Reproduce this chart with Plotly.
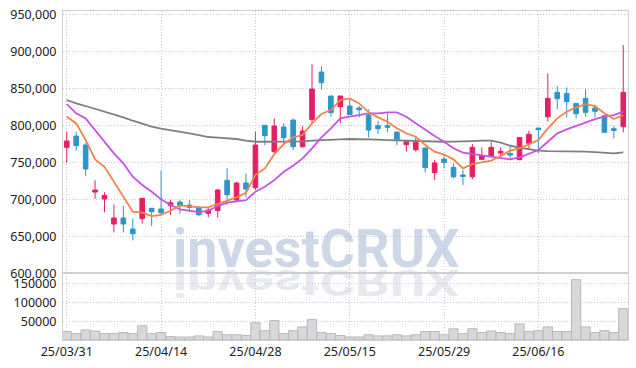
import plotly.graph_objects as go

dates = ["25/03/31","25/04/01","25/04/02","25/04/03","25/04/04","25/04/07","25/04/08","25/04/09","25/04/10","25/04/11",
         "25/04/14","25/04/15","25/04/16","25/04/17","25/04/18","25/04/21","25/04/22","25/04/23","25/04/24","25/04/25",
         "25/04/28","25/04/29","25/04/30","25/05/02","25/05/07","25/05/08","25/05/09","25/05/12","25/05/13","25/05/14",
         "25/05/15","25/05/16","25/05/19","25/05/20","25/05/21","25/05/22","25/05/23","25/05/26","25/05/27","25/05/28",
         "25/05/29","25/05/30","25/06/02","25/06/04","25/06/05","25/06/09","25/06/10","25/06/11","25/06/12","25/06/13",
         "25/06/16","25/06/17","25/06/18","25/06/19","25/06/20","25/06/23","25/06/24","25/06/25","25/06/26","25/06/27"]

open_ = [770200,785500,773400,709800,700400,666600,674700,659800,673800,687800,
         686900,691400,696300,692200,689100,681000,684600,725600,699000,722000,
         715700,800000,764300,797700,807100,771100,808000,872000,839600,825200,
         826100,823400,813900,799500,799500,790900,773800,767000,769300,736000,
         754400,743200,732800,730500,754000,758900,762500,762000,753500,775600,
         796300,811600,844500,843100,829600,836400,823400,813000,795400,798100]
high = [791400,791400,776000,725600,709400,693200,691400,673800,701500,688500,
        739100,699000,699000,699000,690900,689100,713800,741800,723800,735100,
        791400,800500,809400,802700,809400,799000,882400,880100,840000,840000,
        836300,826100,821600,806200,816200,791200,778500,784600,769600,753100,
        759800,748500,739600,774700,770200,777800,770200,773800,784000,792700,
        796600,870200,853000,851200,830000,848500,827900,813300,799000,908500]
low = [749500,765700,731500,700800,682400,655300,655300,644500,667500,663900,
       679000,678800,680600,683300,677400,675600,675600,692300,696800,702700,
       712500,773400,762100,773400,766600,770000,802700,848000,811700,802700,
       814000,810800,783700,788200,790500,773400,764300,764300,736400,726000,
       741800,728300,719300,726900,753500,757600,758500,755300,753000,767900,
       762000,805100,821600,810800,809400,811700,810800,790300,782400,790500]
close = [778800,772500,741000,712500,705300,674700,666600,653500,701300,683300,
         681900,695400,691800,689000,679200,685500,712500,706200,722000,713800,
         773400,786000,799000,783200,771100,792300,849000,857600,817100,839600,
         814400,821100,793600,795400,797300,780100,777800,776900,742700,749000,
         749900,730500,731000,770200,758500,770200,764800,759800,783700,787800,
         794100,836400,835900,831900,815600,817500,818900,790500,793100,844500]

ma_short = [811600,802600,780100,754000,744000,723800,703500,683300,682000,677400,
            678800,684600,691800,690000,689100,689100,693600,697200,702600,708900,
            732800,741800,761200,774700,783700,786900,802700,815300,820700,834200,
            836400,829600,817500,810800,804900,795900,789100,784600,773400,764300,
            760500,754000,741800,747700,749500,752200,758500,765700,768900,774700,
            780100,795900,809400,818400,824300,828700,826100,816200,808500,813900]
ma_mid = [828700,816200,809400,793600,777800,762100,748500,730500,719300,710300,
          699900,692300,686400,684600,682800,684600,690900,695400,696800,699000,
          710300,717000,726000,737300,745400,755300,768900,783700,795900,809400,
          811700,813900,816200,816200,817500,817500,811700,802700,793600,785600,
          777800,768900,763000,761000,759800,757600,755300,754000,756700,761200,
          766600,777800,789100,794500,799000,803500,808500,811600,813900,818400]
ma_long = [834200,829600,826100,822500,818900,814800,810800,806200,801700,798100,
           795400,793600,791400,789100,786900,784200,783300,782400,781500,779200,
           777800,777800,777800,777800,777800,778200,779200,780100,780600,781000,
           781500,781500,781000,780600,780100,779600,779200,778700,778300,777800,
           777800,778000,778000,778700,779200,779200,776500,772400,769700,767500,
           765700,765200,765200,764800,764800,764500,763900,763000,762100,763400]

volume = [22500,17000,27000,24000,17000,17000,20000,17000,38000,17000,
          20000,9000,8000,8000,11000,8000,22500,14000,14000,12000,
          46000,25000,52000,17000,25000,35000,54500,20000,17000,12000,
          8000,8000,14000,11000,11000,14000,11000,14000,22500,22500,
          14000,30000,17000,30000,20000,24000,20000,17000,43000,22500,
          25000,35000,22500,22500,161500,35000,20000,25000,20000,84000]

tick_dates = ["25/03/31","25/04/14","25/04/28","25/05/15","25/05/29","25/06/16"]
price_ticks = [600000,650000,700000,750000,800000,850000,900000,950000]
vol_ticks = [50000,100000,150000]

RED = "#e61e64"
BLUE = "#2e95c8"
GRID = "#c3c8dc"
FRAME = "#cfcfd4"
DOT = "1px,2px"
TICKFONT = dict(family="Noto Sans", size=12.5, color="#222222")

fig = go.Figure()
fig.add_trace(go.Candlestick(
    x=dates, open=open_, high=high, low=low, close=close,
    increasing=dict(line=dict(color=RED, width=1), fillcolor=RED),
    decreasing=dict(line=dict(color=BLUE, width=1), fillcolor=BLUE),
    whiskerwidth=0, xaxis="x", yaxis="y", showlegend=False, hoverinfo="skip"))
for vals, col in [(ma_long, "#7f7f7f"), (ma_mid, "#c752e6"), (ma_short, "#f0844c")]:
    fig.add_trace(go.Scatter(x=dates, y=vals, mode="lines", line=dict(color=col, width=1.8),
                             xaxis="x", yaxis="y", showlegend=False, hoverinfo="skip"))
fig.add_trace(go.Bar(x=dates, y=volume, marker=dict(color="#d8d8da", line=dict(color="#b9b9bd", width=1)),
                     xaxis="x2", yaxis="y2", showlegend=False, hoverinfo="skip"))

split = (340 - 273.3) / 329.0
xcommon = dict(type="category", range=[-0.4, 59.5], autorange=False, tickvals=tick_dates, showgrid=True,
               gridcolor=GRID, griddash=DOT, gridwidth=1, showline=True, linecolor=FRAME,
               mirror=True, ticks="", tickfont=TICKFONT, rangeslider=dict(visible=False),
               categoryorder="array", categoryarray=dates, automargin=False)
fig.update_layout(
    width=636, height=368,
    margin=dict(l=63, r=8, t=11, b=28),
    paper_bgcolor="white", plot_bgcolor="white",
    bargap=0.02, boxgap=0.3,
    xaxis=dict(xcommon, anchor="y", showticklabels=False, domain=[0, 1]),
    xaxis2=dict(xcommon, anchor="y2", showticklabels=True, domain=[0, 1]),
    yaxis=dict(domain=[split, 1], range=[600000, 954500], autorange=False, tickvals=price_ticks, tickformat=",",
               showgrid=True, gridcolor=GRID, griddash=DOT, showline=True, linecolor=FRAME,
               mirror=True, ticks="", tickfont=TICKFONT, ticklabelstandoff=3, zeroline=False, automargin=False),
    yaxis2=dict(domain=[0, split], range=[0, 178300], autorange=False, tickvals=vol_ticks, tickformat="d",
                showgrid=True, gridcolor=GRID, griddash=DOT, showline=True, linecolor=FRAME,
                mirror=True, ticks="", tickfont=TICKFONT, ticklabelstandoff=3, zeroline=False, automargin=False),
    hovermode=False,
)

wm_font = dict(family="Roboto", size=54, weight="bold")
wm_x = (316 - 63) / 565.0
wm_y = (340 - 249) / 329.0
fig.add_annotation(text="investCRUX", xref="paper", yref="paper", x=wm_x, y=wm_y,
                   xanchor="center", yanchor="middle", showarrow=False,
                   font=dict(wm_font, color="rgba(165,182,214,0.55)"))
fig.add_annotation(text="investCRUX", xref="paper", yref="paper", x=wm_x, y=wm_y,
                   xanchor="center", yanchor="middle", showarrow=False,
                   font=dict(wm_font, color="rgba(200,200,216,0.42)"))

post = """
document.documentElement.style.margin = '0';
document.documentElement.style.overflow = 'hidden';
document.body.style.margin = '0';
document.body.style.padding = '0';
document.body.style.overflow = 'hidden';
var gd = document.getElementById('{plot_id}');
function flipWM(){
  var texts = gd.querySelectorAll('text.annotation-text');
  if (texts.length < 2) return;
  var t = texts[1];
  if (t.getAttribute('data-flipped')) return;
  var ns = 'http://www.w3.org/2000/svg';
  var g = document.createElementNS(ns, 'g');
  t.parentNode.insertBefore(g, t);
  g.appendChild(t);
  var base;
  try { base = t.getStartPositionOfChar(0).y; } catch (e) {
    var bb = g.getBBox(); base = bb.y + bb.height * 0.79;
  }
  var m = base + 1.5, s = 0.7;
  g.setAttribute('transform', 'translate(0,' + ((1 + s) * m) + ') scale(1,' + (-s) + ')');
  t.setAttribute('data-flipped', '1');
}
flipWM();
"""
fig.write_html("out.html", post_script=post, config={"displayModeBar": False})
